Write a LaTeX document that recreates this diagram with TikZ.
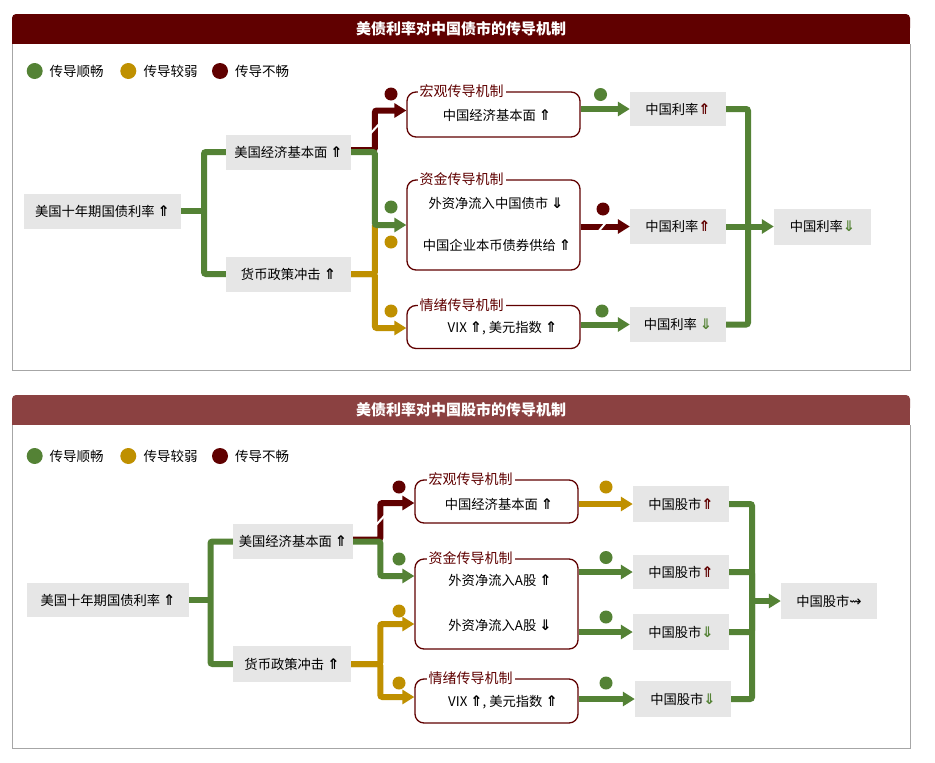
\documentclass[tikz,border=0pt]{standalone}
\usepackage{fontspec}
\setmainfont{Noto Sans CJK SC}
\newfontfamily\symf{DejaVu Sans}[Scale=1.1]
\usetikzlibrary{arrows.meta}
\definecolor{dkred}{HTML}{600000}
\definecolor{hdrB}{HTML}{8B4141}
\definecolor{grn}{HTML}{548235}
\definecolor{ylw}{HTML}{BF9000}
\definecolor{boxg}{HTML}{E6E6E6}
\definecolor{frameg}{HTML}{A6A6A6}
\newcommand{\UA}{{\symf\bfseries ⇑}}
\newcommand{\DA}{{\symf\bfseries ⇓}}
\newcommand{\SQA}{{\symf ⇝}}
\tikzset{
  gbox/.style={fill=boxg, minimum height=35pt, inner sep=0pt, font=\fontsize{13.3}{15}\selectfont},
  mbox/.style={draw=dkred, line width=1.3pt, rounded corners=9pt, fill=white, inner sep=0pt},
  mlab/.style={fill=white, text=dkred, inner sep=2pt, font=\fontsize{14}{16}\selectfont, anchor=west},
  txt/.style={inner sep=0pt, font=\fontsize{13.3}{15}\selectfont},
  legt/.style={inner sep=0pt, anchor=west, font=\fontsize{13.5}{15}\selectfont},
  ttl/.style={text=white, inner sep=0pt, font=\bfseries\fontsize{15}{17}\selectfont},
  wire/.style={line width=6pt, rounded corners=2pt},
  gw/.style={wire, draw=grn},
  yw/.style={wire, draw=ylw},
  rw/.style={wire, draw=dkred},
  arr/.style={-{Triangle[length=12pt,width=14pt]}},
  dot/.style={circle, inner sep=0pt, minimum size=13pt},
  ldot/.style={circle, inner sep=0pt, minimum size=16pt},
  brk/.style={draw=white, line width=2pt},
}
\begin{document}
\begin{tikzpicture}[x=1pt,y=-1pt]
\useasboundingbox (0,0) rectangle (935,763);
\fill[white] (0,0) rectangle (935,763);

% ================= Panel 1 =================
\fill[dkred, rounded corners=4pt] (12,14) rectangle (910,32);
\fill[dkred] (12,24) rectangle (910,44);
\draw[frameg, line width=1pt] (12,44) -- (12,370) -- (910,370) -- (910,44);
\node[ttl] (t1) at (461,29) {美债利率对中国债市的传导机制};

\node[ldot, fill=grn] (lg1) at (34.7,71) {};
\node[legt] (lg1t) at (49.5,71) {传导顺畅};
\node[ldot, fill=ylw] (ly1) at (128.3,71) {};
\node[legt] (ly1t) at (143.3,71) {传导较弱};
\node[ldot, fill=dkred] (lr1) at (220,71) {};
\node[legt] (lr1t) at (235,71) {传导不畅};

\node[gbox, minimum width=157pt] (us1) at (102.5,211) {美国十年期国债利率 \UA};
\node[gbox, minimum width=125pt] (ec1) at (288.5,152) {美国经济基本面 \UA};
\node[gbox, minimum width=125pt] (mp1) at (288.5,274) {货币政策冲击 \UA};
\coordinate (j1) at (204,211);
\draw[gw] (us1.east) -- (j1);
\draw[gw] (ec1.west) -| (j1) |- (mp1.west);

\node[mbox, minimum width=173pt, minimum height=45pt] (ma1) at (493.5,114.5) {};
\node[mbox, minimum width=173pt, minimum height=90pt] (fu1) at (493.5,225) {};
\node[mbox, minimum width=173pt, minimum height=43pt] (em1) at (493.5,327) {};
\node[mlab] (ma1l) at ([xshift=11pt]ma1.north west) {宏观传导机制};
\node[mlab] (fu1l) at ([xshift=11pt]fu1.north west) {资金传导机制};
\node[mlab] (em1l) at ([xshift=11pt]em1.north west) {情绪传导机制};
\node[txt] (ma1t) at (497,115) {中国经济基本面 \UA};
\node[txt] (fu1t) at (496,203) {外资净流入中国债市 \DA};
\node[txt] (fu1u) at (497,245) {中国企业本币债券供给 \UA};
\node[txt] (em1t) at (502.5,328) {VIX \UA, 美元指数 \UA};

% inputs
\draw[rw, arr] ([yshift=2pt]ec1.east) -| ([xshift=-31.5pt,yshift=4pt]ma1.west) -- ([yshift=4pt]ma1.west);
\draw[brk] (370,134) -- (381,122);
\draw[yw] (mp1.east) -| ([xshift=-31.5pt]fu1.west);
\draw[yw, arr] (mp1.east) -| ([xshift=-31.5pt,yshift=-1pt]em1.west) -- ([yshift=-1pt]em1.west);
\draw[gw, arr] (ec1.east) -| ([xshift=-31.5pt]fu1.west) -- (fu1.west);
\node[dot, fill=dkred] (d11) at (391,94) {};
\node[dot, fill=grn] (d12) at (391,207) {};
\node[dot, fill=ylw] (d13) at (391,242) {};
\node[dot, fill=ylw] (d14) at (391,311) {};

% outputs
\node[gbox, minimum width=96pt, minimum height=34pt] (r1) at (678,109) {中国利率\textcolor{dkred}{\UA}};
\node[gbox, minimum width=96pt] (r2) at (678,226.5) {中国利率\textcolor{dkred}{\UA}};
\node[gbox, minimum width=96pt] (r3) at (678,324.5) {中国利率 \textcolor{grn}{\DA}};
\node[gbox, minimum width=97pt, minimum height=36pt] (rf) at (822.5,226.5) {中国利率\textcolor{grn}{\DA}};
\draw[gw, arr] (ma1.east |- r1) -- (r1.west);
\draw[rw, arr] (fu1.east |- r2) -- (r2.west);
\draw[brk] (598,232) -- (608,220);
\draw[gw, arr] (em1.east |- r3) -- (r3.west);
\node[dot, fill=grn] (d15) at (600.5,94.5) {};
\node[dot, fill=dkred] (d16) at (603,209) {};
\node[dot, fill=grn] (d17) at (602,311) {};
\coordinate (k1) at (748,226.5);
\draw[gw] (r1.east) -| (k1) |- (r3.east);
\draw[gw, arr] (r2.east) -- (rf.west);

% ================= Panel 2 =================
\fill[hdrB, rounded corners=4pt] (12,395) rectangle (910,412);
\fill[hdrB] (12,405) rectangle (910,425);
\draw[frameg, line width=1pt] (12,425) -- (12,748) -- (910,748) -- (910,425);
\node[ttl] (t2) at (461,410) {美债利率对中国股市的传导机制};

\node[ldot, fill=grn] (lg2) at (34.7,456) {};
\node[legt] (lg2t) at (49.5,456) {传导顺畅};
\node[ldot, fill=ylw] (ly2) at (128.3,456) {};
\node[legt] (ly2t) at (143.3,456) {传导较弱};
\node[ldot, fill=dkred] (lr2) at (220,456) {};
\node[legt] (lr2t) at (235,456) {传导不畅};

\node[gbox, minimum width=162pt, minimum height=34pt] (us2) at (108,600) {美国十年期国债利率 \UA};
\node[gbox, minimum width=120pt] (ec2) at (293,541.5) {美国经济基本面 \UA};
\node[gbox, minimum width=118pt, minimum height=36pt] (mp2) at (292,664) {货币政策冲击 \UA};
\coordinate (j2) at (210.5,600);
\draw[gw] (us2.east) -- (j2);
\draw[gw] (ec2.west) -| (j2) |- (mp2.west);

\node[mbox, minimum width=163pt, minimum height=43pt] (ma2) at (496.5,501.5) {};
\node[mbox, minimum width=163pt, minimum height=90pt] (fu2) at (496.5,604) {};
\node[mbox, minimum width=163pt, minimum height=44pt] (em2) at (496.5,701) {};
\node[mlab] (ma2l) at ([xshift=12pt]ma2.north west) {宏观传导机制};
\node[mlab] (fu2l) at ([xshift=12pt]fu2.north west) {资金传导机制};
\node[mlab] (em2l) at ([xshift=12pt]em2.north west) {情绪传导机制};
\node[txt] (ma2t) at (499,504) {中国经济基本面 \UA};
\node[txt] (fu2t) at (500,580) {外资净流入A股 \UA};
\node[txt] (fu2u) at (500,625) {外资净流入A股 \DA};
\node[txt] (em2t) at (503,702) {VIX \UA, 美元指数 \UA};

\draw[rw, arr] ([yshift=2pt]ec2.east) -| ([xshift=-34pt,yshift=-1.5pt]ma2.west) -- ([yshift=-1.5pt]ma2.west);
\draw[brk] (376,525) -- (387,513);
\draw[gw, arr] (ec2.east) -| ([xshift=-34pt,yshift=28pt]fu2.west) -- ([yshift=28pt]fu2.west);
\draw[yw, arr] (mp2.east) -| ([xshift=-34pt,yshift=-20pt]fu2.west) -- ([yshift=-20pt]fu2.west);
\draw[yw, arr] (mp2.east) -| ([xshift=-34pt,yshift=4pt]em2.west) -- ([yshift=4pt]em2.west);
\node[dot, fill=dkred] (d21) at (399,487) {};
\node[dot, fill=grn] (d22) at (399,559) {};
\node[dot, fill=ylw] (d23) at (399,611) {};
\node[dot, fill=ylw] (d24) at (399,683) {};

\node[gbox, minimum width=96pt, minimum height=36pt] (s1) at (681,504) {中国股市\textcolor{dkred}{\UA}};
\node[gbox, minimum width=96pt, minimum height=34pt] (s2) at (681,572) {中国股市\textcolor{dkred}{\UA}};
\node[gbox, minimum width=96pt, minimum height=36pt] (s3) at (681,632) {中国股市\textcolor{grn}{\DA}};
\node[gbox, minimum width=96pt, minimum height=36pt] (s4) at (683,699) {中国股市\textcolor{grn}{\DA}};
\node[gbox, minimum width=96pt, minimum height=36pt] (sf) at (829,601) {中国股市\SQA};
\draw[yw, arr] (ma2.east |- s1) -- (s1.west);
\draw[gw, arr] (fu2.east |- s2) -- (s2.west);
\draw[gw, arr] (fu2.east |- s3) -- (s3.west);
\draw[gw, arr] (em2.east |- s4) -- (s4.west);
\node[dot, fill=ylw] (d25) at (606,487) {};
\node[dot, fill=grn] (d26) at (606,557.5) {};
\node[dot, fill=grn] (d27) at (606,617) {};
\node[dot, fill=grn] (d28) at (606,683) {};
\coordinate (k2) at (752,601);
\draw[gw] (s1.east) -| (k2) |- (s4.east);
\draw[gw] (s2.east) -| (k2);
\draw[gw] (s3.east) -| (k2);
\draw[gw, arr] (k2) -- (sf.west);
\end{tikzpicture}
\end{document}
